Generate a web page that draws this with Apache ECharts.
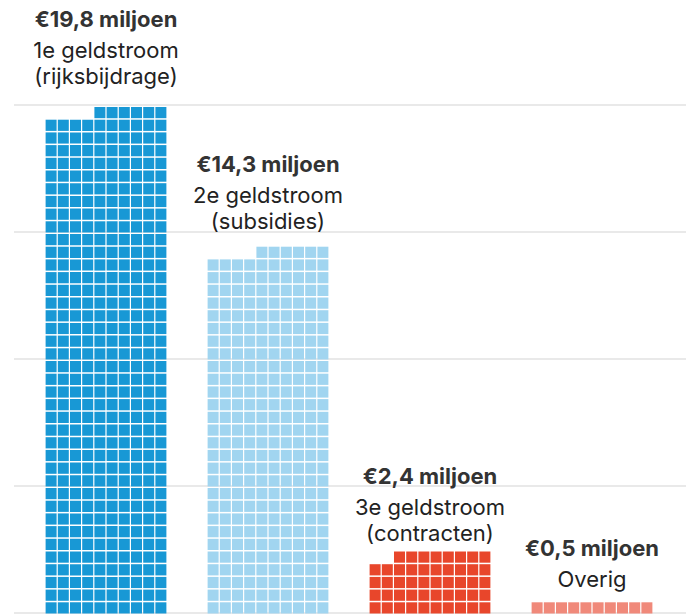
<!DOCTYPE html>
<html>
<head>
<meta charset="utf-8">
<title>Geldstromen</title>
<script src="https://cdn.jsdelivr.net/npm/echarts@6/dist/echarts.min.js"></script>
<style>
  html, body { margin: 0; padding: 0; background: #fff; }
  #chart { width: 697px; height: 614px; }
</style>
</head>
<body>
<div id="chart"></div>
<script>
// bedragen in miljoen euro
const amounts = [19.8, 14.3, 2.4, 0.5];
const amountLabels = ['€19,8 miljoen', '€14,3 miljoen', '€2,4 miljoen', '€0,5 miljoen'];
const streams = ['1e geldstroom', '2e geldstroom', '3e geldstroom', 'Overig'];
const streamNotes = ['(rijksbijdrage)', '(subsidies)', '(contracten)', ''];
const yTicks = [0, 5, 10, 15, 20];

// elk blokje = 0,05 miljoen, 10 blokjes per rij
const unit = 0.05;
const perRow = 10;
const rowValue = unit * perRow;

const colors = ['#1898d5', '#a1d5f0', '#e8462b', '#f0897a'];
// kleine verschuiving van de tekstblokken (px), zoals in het origineel
const labelShift = [-5, 0, 7, 3];

// blokjes opbouwen: volle rijen van onder, onvolledige bovenste rij rechts uitgelijnd
let squares = [];
amounts.forEach((v, i) => {
  let n = Math.round(v / unit);
  let full = Math.floor(n / perRow);
  let rest = n - full * perRow;
  for (let k = 0; k < n; k++) {
    let row = Math.floor(k / perRow);
    let col = k % perRow;
    if (row === full) col = perRow - rest + col;
    squares.push([i, row, col]);
  }
});

let chart = echarts.init(document.getElementById('chart'), null, { renderer: 'svg' });

let option = {
  animation: false,
  grid: [
    { left: 25, right: 24, top: 105, bottom: 1 },
    { left: 14, right: 11, top: 105, bottom: 1 }
  ],
  xAxis: [
    { type: 'category', data: streams, gridIndex: 0, show: false },
    { type: 'value', gridIndex: 1, show: false, min: 0, max: 1 }
  ],
  yAxis: [
    { type: 'value', gridIndex: 0, min: yTicks[0], max: yTicks[yTicks.length - 1], interval: 5, show: false },
    {
      type: 'value', gridIndex: 1, min: yTicks[0], max: yTicks[yTicks.length - 1], interval: 5,
      axisLine: { show: false }, axisTick: { show: false }, axisLabel: { show: false },
      splitLine: { show: true, lineStyle: { color: '#e9e9e9', width: 2 } }
    }
  ],
  series: [
    {
      type: 'custom',
      xAxisIndex: 0,
      yAxisIndex: 0,
      data: squares,
      renderItem: function (params, api) {
        let cat = api.value(0);
        let row = api.value(1);
        let col = api.value(2);
        let base = api.coord([cat, row * rowValue]);
        let bandW = api.size([1, 0])[0];
        let rowH = api.size([0, rowValue])[1];
        let colW = bandW * 0.753;
        let pitch = colW / perRow;
        let x0 = base[0] - colW / 2 + col * pitch;
        return {
          type: 'rect',
          shape: { x: x0 + 0.6, y: base[1] - rowH + 2, width: pitch - 1.2, height: rowH - 1.5 },
          style: { fill: colors[cat] }
        };
      }
    },
    {
      type: 'custom',
      xAxisIndex: 0,
      yAxisIndex: 0,
      data: amounts.map((v, i) => [i, v]),
      z: 5,
      renderItem: function (params, api) {
        let i = api.value(0);
        let rows = Math.ceil(Math.round(api.value(1) / unit) / perRow);
        let top = api.coord([i, rows * rowValue]);
        let x = top[0];
        let lastY = top[1] - 24 + labelShift[i];
        let lines = [streams[i]];
        if (streamNotes[i]) lines.push(streamNotes[i]);
        let children = [];
        lines.slice().reverse().forEach((t, k) => {
          children.push({
            type: 'text',
            style: {
              x: x, y: lastY - k * 26, text: t,
              fill: '#222', font: '22px Inter',
              align: 'center', verticalAlign: 'middle'
            }
          });
        });
        let firstY = lastY - (lines.length - 1) * 26;
        children.push({
          type: 'text',
          style: {
            x: x, y: firstY - 31, text: amountLabels[i],
            fill: '#333', font: 'bold 22px Inter',
            align: 'center', verticalAlign: 'middle'
          }
        });
        return { type: 'group', children: children };
      }
    }
  ]
};

chart.setOption(option);
</script>
</body>
</html>
